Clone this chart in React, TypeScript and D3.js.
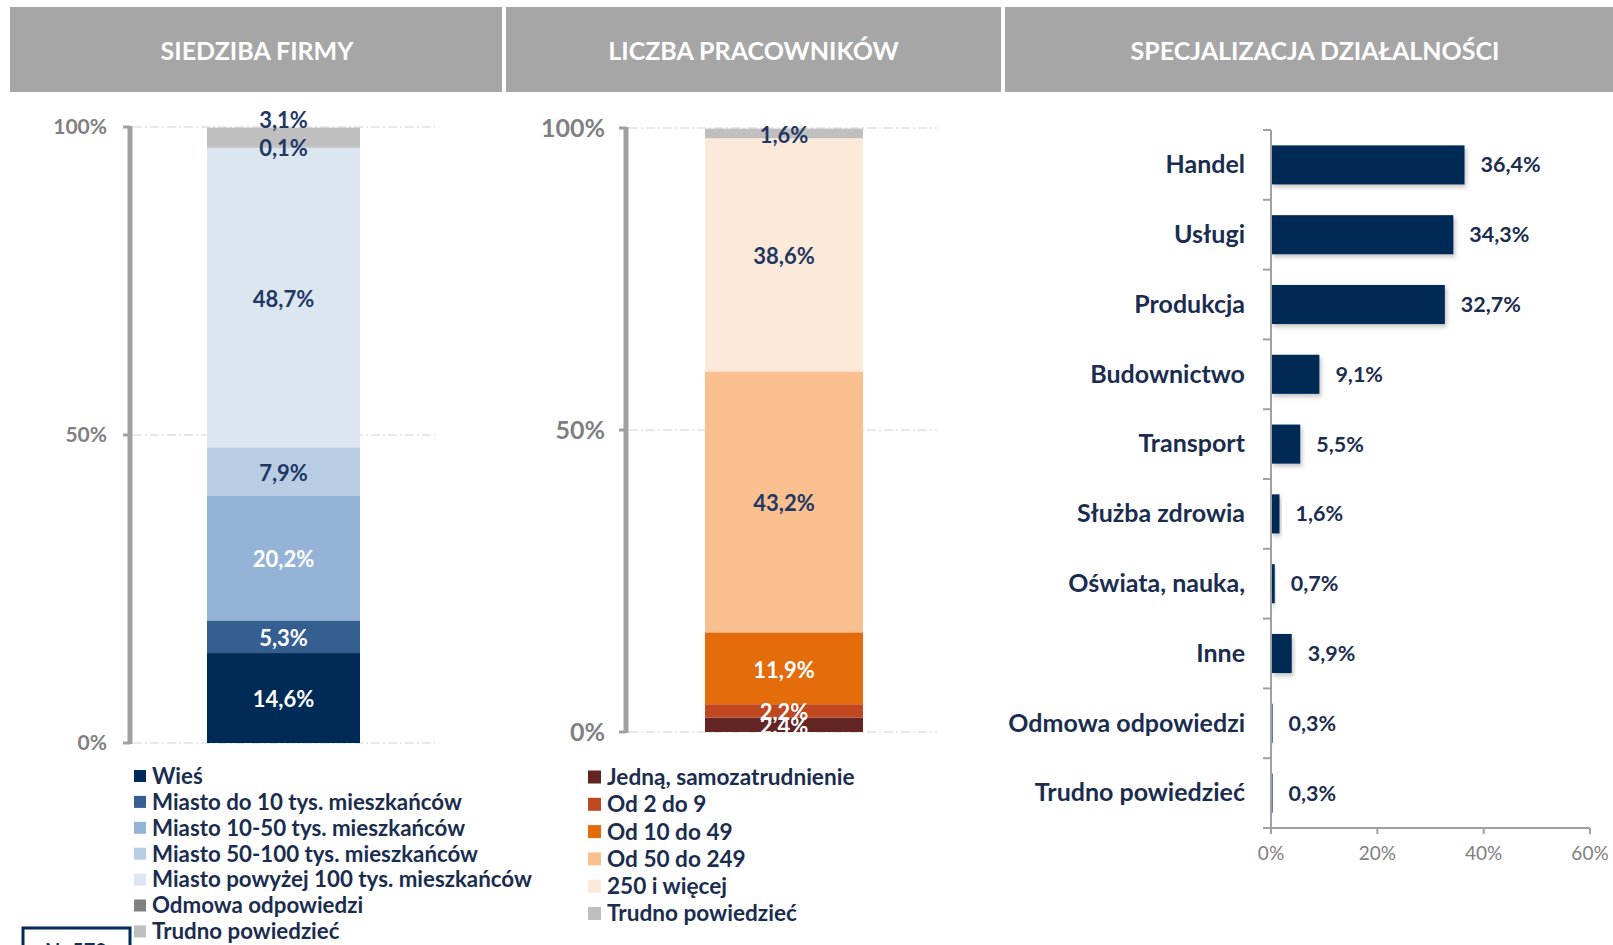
import React from 'react';
import * as d3 from 'd3';

const width = 1613;
const height = 945;
const font = "Lato, 'Open Sans', sans-serif";
const navyText = '#1b2d4f';
const valueText = '#1f3864';

// panel titles
const titles = ['SIEDZIBA FIRMY', 'LICZBA PRACOWNIKÓW', 'SPECJALIZACJA DZIAŁALNOŚCI'];

// chart 1 - siedziba firmy (bottom -> top)
const seatCats = [
  'Wieś',
  'Miasto do 10 tys. mieszkańców',
  'Miasto 10-50 tys. mieszkańców',
  'Miasto 50-100 tys. mieszkańców',
  'Miasto powyżej 100 tys. mieszkańców',
  'Odmowa odpowiedzi',
  'Trudno powiedzieć',
];
const seatValues = [14.6, 5.3, 20.2, 7.9, 48.7, 0.1, 3.1];
const seatColors = ['#002b57', '#365f91', '#95b3d7', '#b8cce4', '#dce6f1', '#808080', '#bfbfbf'];

// chart 2 - liczba pracowników (bottom -> top)
const staffCats = [
  'Jedną, samozatrudnienie',
  'Od 2 do 9',
  'Od 10 do 49',
  'Od 50 do 249',
  '250 i więcej',
  'Trudno powiedzieć',
];
const staffValues = [2.4, 2.2, 11.9, 43.2, 38.6, 1.6];
const staffColors = ['#632523', '#c0471f', '#e46c0a', '#fac090', '#fde9d9', '#bfbfbf'];

// chart 3 - specjalizacja
const specCats = [
  'Handel',
  'Usługi',
  'Produkcja',
  'Budownictwo',
  'Transport',
  'Służba zdrowia',
  'Oświata, nauka,',
  'Inne',
  'Odmowa odpowiedzi',
  'Trudno powiedzieć',
];
const specValues = [36.4, 34.3, 32.7, 9.1, 5.5, 1.6, 0.7, 3.9, 0.3, 0.3];
const specTicks = [0, 20, 40, 60];
const stackTicks = [0, 50, 100];

const fmt = (v: number) => v.toFixed(1).replace('.', ',') + '%';

function stack(values: number[]) {
  let acc = 0;
  return values.map(v => {
    const s = { y0: acc, y1: acc + v, v };
    acc += v;
    return s;
  });
}

function StackPanel(props: {
  values: number[]; colors: string[]; cats: string[];
  axisX: number; y0: number; y100: number; barX: number; barW: number; gridEnd: number;
  tickRight: number; tickSize: number; labelColors: string[]; labelShift: number[];
  legendX: number; legendY: number; legendStep: number; sq: number; legendText: number;
}) {
  const p = props;
  const y = d3.scaleLinear().domain([0, 100]).range([p.y0, p.y100]);
  const segs = stack(p.values);
  return (
    <g>
      {stackTicks.map(t => (
        <g key={t}>
          <line x1={p.axisX + 3} x2={p.gridEnd} y1={y(t)} y2={y(t)} stroke="#d0d0d0" strokeWidth={1} strokeDasharray="9,3,2,3" />
          <line x1={p.axisX - 7} x2={p.axisX} y1={y(t)} y2={y(t)} stroke="#a0a0a0" strokeWidth={3} />
          <text x={p.tickRight} y={y(t)} dy="0.35em" textAnchor="end" fontSize={p.tickSize} fontWeight="bold" fill="#808080">{t}%</text>
        </g>
      ))}
      <line x1={p.axisX} x2={p.axisX} y1={y(100) - 1} y2={y(0) + 1} stroke="#a0a0a0" strokeWidth={5} />
      {segs.map((s, i) => (
        <rect key={i} x={p.barX} width={p.barW} y={y(s.y1)} height={y(s.y0) - y(s.y1)} fill={p.colors[i]} />
      ))}
      {segs.map((s, i) => (
        <text key={'l' + i} x={p.barX + p.barW / 2} y={(y(s.y0) + y(s.y1)) / 2 + p.labelShift[i]} dy="0.42em"
          textAnchor="middle" fontSize={22} fontWeight="bold" fill={p.labelColors[i]}>{fmt(s.v)}</text>
      ))}
      {p.cats.map((c, i) => (
        <g key={c} transform={`translate(${p.legendX},${p.legendY + i * p.legendStep})`}>
          <rect x={0} y={-p.sq / 2} width={p.sq} height={p.sq} fill={p.colors[i]} />
          <text x={p.sq + 6} y={0} dy="0.35em" fontSize={p.legendText} fontWeight="bold" fill={navyText}>{c}</text>
        </g>
      ))}
    </g>
  );
}

function SpecPanel() {
  const x = d3.scaleLinear().domain([0, 60]).range([1271, 1590]);
  const y = d3.scaleBand<string>().domain(specCats).range([130, 828]).paddingInner(0.44).paddingOuter(0.22);
  const step = y.step();
  const top = 130;
  const bottom = 828;
  return (
    <g>
      <defs>
        <filter id="shadow" x="-20%" y="-20%" width="140%" height="160%">
          <feDropShadow dx={2} dy={3} stdDeviation={2} floodColor="#000" floodOpacity={0.22} />
        </filter>
      </defs>
      {specCats.map((c, i) => (
        <g key={c}>
          <rect x={x(0)} y={y(c)} width={x(specValues[i]) - x(0)} height={y.bandwidth()} fill="#002b57" filter="url(#shadow)" />
          <text x={1245} y={y(c)! + y.bandwidth() / 2} dy="0.33em" textAnchor="end" fontSize={25} fontWeight="bold" fill={navyText}>{c}</text>
          <text x={x(specValues[i]) + 16} y={y(c)! + y.bandwidth() / 2} dy="0.35em" fontSize={21.5} fontWeight="bold" fill={navyText}>{fmt(specValues[i])}</text>
        </g>
      ))}
      <line x1={x(0)} x2={x(0)} y1={top} y2={bottom} stroke="#a0a0a0" strokeWidth={2} />
      {d3.range(specCats.length + 1).map(i => (
        <line key={i} x1={x(0) - 8} x2={x(0)} y1={top + i * step} y2={top + i * step} stroke="#a0a0a0" strokeWidth={2} />
      ))}
      <line x1={x(0)} x2={x(60)} y1={bottom} y2={bottom} stroke="#a0a0a0" strokeWidth={2} />
      {specTicks.map(t => (
        <g key={t}>
          <line x1={x(t)} x2={x(t)} y1={bottom} y2={bottom + 6} stroke="#a0a0a0" strokeWidth={2} />
          <text x={x(t)} y={bottom + 25} dy="0.35em" textAnchor="middle" fontSize={19} fill="#808080">{t}%</text>
        </g>
      ))}
    </g>
  );
}

export default function App() {
  const headers = [
    { x: 10, w: 492, cx: 257 },
    { x: 506, w: 495, cx: 753.5 },
    { x: 1005, w: 620, cx: 1315 },
  ];
  const nv = valueText;
  return (
    <svg width={width} height={height} style={{ position: 'absolute', left: 0, top: 0, fontFamily: font }}>
      <rect width={width} height={height} fill="#fff" />
      {headers.map((h, i) => (
        <g key={i}>
          <rect x={h.x} y={7} width={h.w} height={85} fill="#a6a6a6" />
          <text x={h.cx} y={51} dy="0.35em" textAnchor="middle" fontSize={25} fontWeight="bold" fill="#fff">{titles[i]}</text>
        </g>
      ))}
      <StackPanel values={seatValues} colors={seatColors} cats={seatCats}
        axisX={130} y0={743} y100={127} barX={207} barW={153} gridEnd={435} tickRight={107} tickSize={21}
        labelColors={['#fff', '#fff', '#fff', nv, nv, nv, nv]} labelShift={[0, 0, 0, 0, 0, 0, -18]}
        legendX={134} legendY={776} legendStep={25.9} sq={12} legendText={22.3} />
      <StackPanel values={staffValues} colors={staffColors} cats={staffCats}
        axisX={626} y0={732} y100={128} barX={705} barW={158} gridEnd={937} tickRight={605} tickSize={25}
        labelColors={['#fff', '#fff', '#fff', nv, nv, nv]} labelShift={[0, 0, 0, 0, 0, 0]}
        legendX={588} legendY={777} legendStep={27.3} sq={13} legendText={22.6} />
      <SpecPanel />
      <rect x={23} y={928} width={107} height={40} fill="none" stroke="#002b57" strokeWidth={3} />
      <text x={76} y={958} textAnchor="middle" fontSize={20} fontWeight="bold" fill={navyText}>N=579</text>
    </svg>
  );
}
